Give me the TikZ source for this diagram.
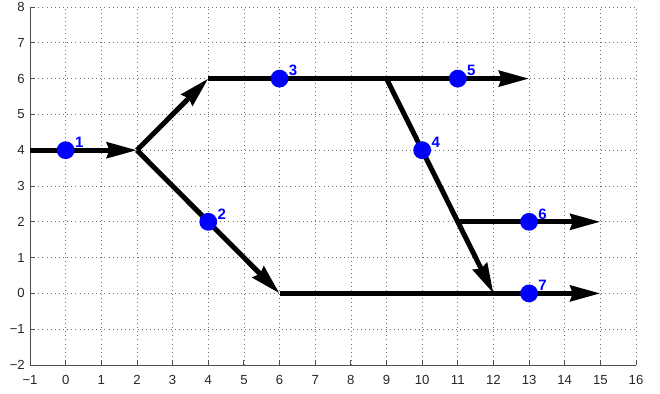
\documentclass[tikz,border=0pt]{standalone}
\usepackage{fontspec}
\setmainfont{Liberation Sans}
\usetikzlibrary{arrows.meta}
\definecolor{axisgray}{RGB}{77,77,77}
\definecolor{gridgray}{RGB}{110,110,110}
\definecolor{markblue}{RGB}{0,0,255}
\begin{document}
\begin{tikzpicture}[x=1cm,y=1.0042cm,
  gridline/.style={gridgray, line width=0.55pt, dash pattern=on 0.6pt off 2.7pt},
  axisline/.style={axisgray, line width=0.7pt},
  ticklbl/.style={font=\fontsize{10.5}{12}\selectfont, text=black!85, inner sep=0pt},
  flow/.style={line width=4pt, black},
  flowtip/.style={flow, -{Stealth[length=24pt, width=12.5pt, inset=2pt]}},
  dot/.style={circle, fill=markblue, minimum size=0.5cm, inner sep=0pt},
  lbl/.style={font=\fontsize{12}{14}\selectfont\bfseries, text=markblue, inner sep=0pt}]
\useasboundingbox (-1.842,-2.81) rectangle (16.672,8.196);

% dotted grid
\foreach \x in {0,...,16} \draw[gridline] (\x,-2) -- (\x,8);
\foreach \y in {-1,...,8} \draw[gridline] (-1,\y) -- (16,\y);

% axes with inward ticks
\draw[axisline] (-1,8) -- (-1,-2) -- (16,-2);
\foreach \y in {-2,...,8} {
  \draw[axisline] (-1,\y) -- (-0.86,\y);
  \node[ticklbl, anchor=east] at (-1.14,\y) {\ifnum\y<0 −\the\numexpr-\y\relax\else\y\fi};
}
\foreach \x in {-1,...,16} {
  \draw[axisline] (\x,-2) -- (\x,-1.86);
  \node[ticklbl] at (\x,-2.42) {\ifnum\x<0 −\the\numexpr-\x\relax\else\x\fi};
}

% junction points of the flow network
\coordinate (s) at (-1,4);
\coordinate (a) at (2,4);
\coordinate (b) at (4,6);
\coordinate (c) at (6,0);
\coordinate (d) at (9,6);
\coordinate (e) at (13,6);
\coordinate (f) at (12,0);
\coordinate (g) at (11,2);
\coordinate (h) at (15,2);
\coordinate (k) at (15,0);

% flow segments
\draw[flowtip] (s) -- (a);
\draw[flowtip] (a) -- (b);
\draw[flowtip] (a) -- (c);
\draw[flowtip] (b) -- (e);
\draw[flowtip] (d) -- (f);
\draw[flowtip] (g) -- (h);
\draw[flowtip] (c) -- (k);

% numbered markers
\foreach \n/\px/\py in {1/0/4, 2/4/2, 3/6/6, 4/10/4, 5/11/6, 6/13/2, 7/13/0} {
  \node[dot] (n\n) at (\px,\py) {};
  \node[lbl] (l\n) at ([shift={(0.38,0.22)}]n\n.center) {\n};
}
\end{tikzpicture}
\end{document}
